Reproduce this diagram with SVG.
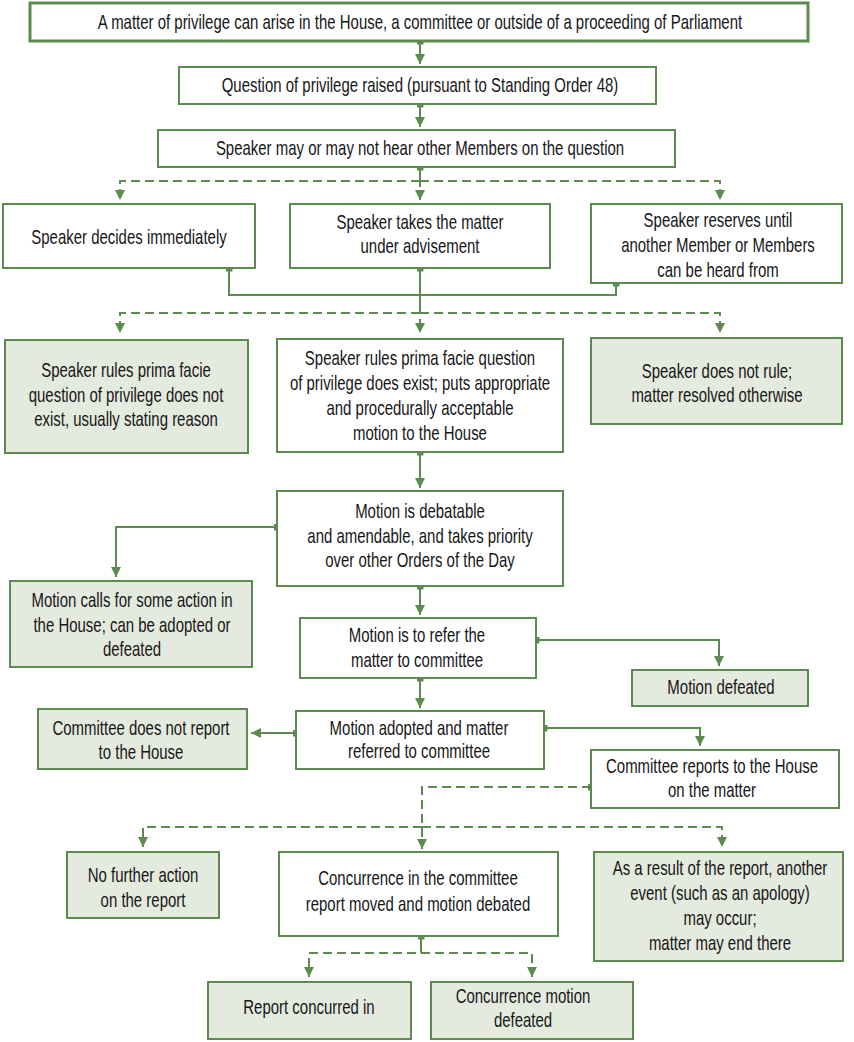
<svg xmlns="http://www.w3.org/2000/svg" width="854" height="1042" viewBox="0 0 854 1042">
<style>
.b{fill:#ffffff;stroke:#5b8b4e;stroke-width:2}
.g{fill:#e5eadf;stroke:#5b8b4e;stroke-width:2}
.top{stroke-width:3}
text{font-family:"Liberation Sans",Arial,sans-serif;font-size:20.5px;fill:#161616;text-anchor:middle}
.c{fill:none;stroke:#5b8b4e;stroke-width:2}
.d{stroke-dasharray:9 5}
</style>
<defs>
<marker id="arr" viewBox="0 0 10 10" refX="10" refY="5" markerWidth="10" markerHeight="10" markerUnits="userSpaceOnUse" orient="auto"><path d="M0,0 L10,5 L0,10 z" fill="#5b8b4e"/></marker>
<marker id="sq" viewBox="0 0 7 7" refX="3.5" refY="3.5" markerWidth="7" markerHeight="7" markerUnits="userSpaceOnUse" orient="auto"><rect width="7" height="7" fill="#5b8b4e"/></marker>
</defs>
<rect width="854" height="1042" fill="#ffffff"/>
<g id="connectors">
<path class="c" d="M420,41 V64" marker-start="url(#sq)" marker-end="url(#arr)"/>
<path class="c" d="M420,104 V127" marker-start="url(#sq)" marker-end="url(#arr)"/>
<path class="c" d="M420,167 V178" marker-start="url(#sq)"/>
<path class="c d" d="M420,178 V200" marker-end="url(#arr)"/>
<path class="c d" d="M420,181 H120 V200" marker-end="url(#arr)"/>
<path class="c d" d="M420,181 H720 V200" marker-end="url(#arr)"/>
<path class="c" d="M229,268 V295 H616 V283" marker-start="url(#sq)" marker-end="url(#sq)"/>
<path class="c" d="M420,268 V305" marker-start="url(#sq)"/>
<path class="c d" d="M420,305 V333" marker-end="url(#arr)"/>
<path class="c d" d="M420,313 H120 V333" marker-end="url(#arr)"/>
<path class="c d" d="M420,313 H720 V333" marker-end="url(#arr)"/>
<path class="c" d="M420,452 V488" marker-start="url(#sq)" marker-end="url(#arr)"/>
<path class="c" d="M277,527 H116 V577" marker-start="url(#sq)" marker-end="url(#arr)"/>
<path class="c" d="M420,586 V615" marker-start="url(#sq)" marker-end="url(#arr)"/>
<path class="c" d="M536,640 H719 V666" marker-start="url(#sq)" marker-end="url(#arr)"/>
<path class="c" d="M420,678 V708" marker-start="url(#sq)" marker-end="url(#arr)"/>
<path class="c" d="M296,733 H251" marker-start="url(#sq)" marker-end="url(#arr)"/>
<path class="c" d="M544,728 H700 V746" marker-start="url(#sq)" marker-end="url(#arr)"/>
<path class="c d" d="M591,787 H422 V849" marker-start="url(#sq)" marker-end="url(#arr)"/>
<path class="c d" d="M422,827 H143 V847" marker-end="url(#arr)"/>
<path class="c d" d="M422,827 H722 V847" marker-end="url(#arr)"/>
<path class="c" d="M421,936 V944" marker-start="url(#sq)"/>
<path class="c d" d="M421,944 V953 H309 V977" marker-end="url(#arr)"/>
<path class="c d" d="M421,953 H532 V977" marker-end="url(#arr)"/>
</g>
<g id="n1"><rect class="b top" x="30" y="3" width="778" height="38"/><text transform="matrix(0.73 0 0 1 420 0)" x="0" y="29">A matter of privilege can arise in the House, a committee or outside of a proceeding of Parliament</text></g>
<g id="n2"><rect class="b" x="179" y="67" width="477" height="37"/><text transform="matrix(0.73 0 0 1 420 0)" x="0" y="92">Question of privilege raised (pursuant to Standing Order 48)</text></g>
<g id="n3"><rect class="b" x="158" y="130" width="517" height="37"/><text transform="matrix(0.73 0 0 1 420 0)" x="0" y="155">Speaker may or may not hear other Members on the question</text></g>
<g id="n4"><rect class="b" x="3" y="204" width="252" height="64"/><text transform="matrix(0.73 0 0 1 129 0)" x="0" y="244">Speaker decides immediately</text></g>
<g id="n5"><rect class="b" x="290" y="204" width="260" height="64"/><text transform="matrix(0.73 0 0 1 420 0)"><tspan x="0" y="229">Speaker takes the matter</tspan><tspan x="0" y="253">under advisement</tspan></text></g>
<g id="n6"><rect class="b" x="591" y="204" width="251" height="79"/><text transform="matrix(0.73 0 0 1 718 0)"><tspan x="0" y="227">Speaker reserves until</tspan><tspan x="0" y="252">another Member or Members</tspan><tspan x="0" y="277">can be heard from</tspan></text></g>
<g id="n7"><rect class="g" x="5" y="340" width="243" height="113"/><text transform="matrix(0.73 0 0 1 126 0)"><tspan x="0" y="377">Speaker rules prima facie</tspan><tspan x="0" y="402">question of privilege does not</tspan><tspan x="0" y="426">exist, usually stating reason</tspan></text></g>
<g id="n8"><rect class="b" x="277" y="339" width="286" height="113"/><text transform="matrix(0.73 0 0 1 420 0)"><tspan x="0" y="365">Speaker rules prima facie question</tspan><tspan x="0" y="390">of privilege does exist; puts appropriate</tspan><tspan x="0" y="415">and procedurally acceptable</tspan><tspan x="0" y="440">motion to the House</tspan></text></g>
<g id="n9"><rect class="g" x="591" y="338" width="251" height="86"/><text transform="matrix(0.73 0 0 1 717 0)"><tspan x="0" y="378">Speaker does not rule;</tspan><tspan x="0" y="402">matter resolved otherwise</tspan></text></g>
<g id="n10"><rect class="b" x="277" y="491" width="286" height="95"/><text transform="matrix(0.73 0 0 1 420 0)"><tspan x="0" y="518">Motion is debatable</tspan><tspan x="0" y="543">and amendable, and takes priority</tspan><tspan x="0" y="567">over other Orders of the Day</tspan></text></g>
<g id="n11"><rect class="g" x="10" y="581" width="242" height="86"/><text transform="matrix(0.73 0 0 1 132 0)"><tspan x="0" y="607">Motion calls for some action in</tspan><tspan x="0" y="632">the House; can be adopted or</tspan><tspan x="0" y="656">defeated</tspan></text></g>
<g id="n12"><rect class="b" x="300" y="618" width="236" height="60"/><text transform="matrix(0.73 0 0 1 417 0)"><tspan x="0" y="642">Motion is to refer the</tspan><tspan x="0" y="667">matter to committee</tspan></text></g>
<g id="n13"><rect class="g" x="632" y="670" width="176" height="36"/><text transform="matrix(0.73 0 0 1 721 0)" x="0" y="694">Motion defeated</text></g>
<g id="n14"><rect class="b" x="296" y="711" width="248" height="58"/><text transform="matrix(0.73 0 0 1 419 0)"><tspan x="0" y="735">Motion adopted and matter</tspan><tspan x="0" y="758">referred to committee</tspan></text></g>
<g id="n15"><rect class="g" x="38" y="709" width="209" height="60"/><text transform="matrix(0.73 0 0 1 141 0)"><tspan x="0" y="735">Committee does not report</tspan><tspan x="0" y="759">to the House</tspan></text></g>
<g id="n16"><rect class="b" x="591" y="750" width="248" height="58"/><text transform="matrix(0.73 0 0 1 712 0)"><tspan x="0" y="773">Committee reports to the House</tspan><tspan x="0" y="797">on the matter</tspan></text></g>
<g id="n17"><rect class="g" x="67" y="852" width="152" height="66"/><text transform="matrix(0.73 0 0 1 143 0)"><tspan x="0" y="882">No further action</tspan><tspan x="0" y="907">on the report</tspan></text></g>
<g id="n18"><rect class="b" x="279" y="852" width="279" height="84"/><text transform="matrix(0.73 0 0 1 418 0)"><tspan x="0" y="885">Concurrence in the committee</tspan><tspan x="0" y="911">report moved and motion debated</tspan></text></g>
<g id="n19"><rect class="g" x="594" y="852" width="249" height="109"/><text transform="matrix(0.73 0 0 1 720 0)"><tspan x="0" y="875">As a result of the report, another</tspan><tspan x="0" y="900">event (such as an apology)</tspan><tspan x="0" y="925">may occur;</tspan><tspan x="0" y="950">matter may end there</tspan></text></g>
<g id="n20"><rect class="g" x="208" y="982" width="203" height="57"/><text transform="matrix(0.73 0 0 1 309 0)" x="0" y="1014">Report concurred in</text></g>
<g id="n21"><rect class="g" x="431" y="982" width="202" height="57"/><text transform="matrix(0.73 0 0 1 523 0)"><tspan x="0" y="1003">Concurrence motion</tspan><tspan x="0" y="1027">defeated</tspan></text></g>
</svg>
